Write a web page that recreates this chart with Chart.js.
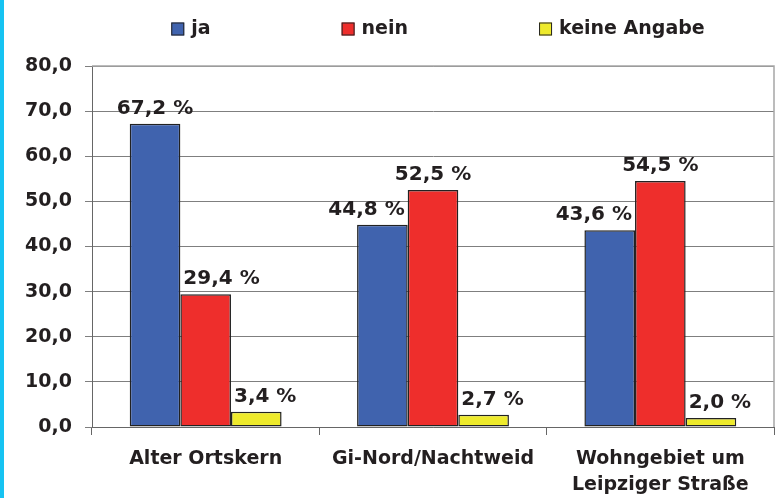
<!DOCTYPE html>
<html>
<head>
<meta charset="utf-8">
<script src="https://cdn.jsdelivr.net/npm/chart.js@4.4.0/dist/chart.umd.min.js"></script>
<style>
    html, body { margin: 0; padding: 0; background: #fff; }
    body { width: 780px; height: 498px; overflow: hidden; position: relative; }
    #strip { position: absolute; left: 0; top: 0; width: 4px; height: 498px; background: #16c3f2; }
    #wrap { position: absolute; left: 4px; top: 0; width: 776px; height: 498px; }
</style>
</head>
<body>
<div id="strip"></div>
<div id="wrap"><canvas id="myChart" width="776" height="498"></canvas></div>
<script>
// datos del grafico
const categorias = ['Alter Ortskern', 'Gi-Nord/Nachtweid', ['Wohngebiet um', 'Leipziger Straße']];
const etiquetasSeries = ['ja', 'nein', 'keine Angabe'];
const valoresJa = [67.2, 44.8, 43.6];
const valoresNein = [29.4, 52.5, 54.5];
const valoresKeine = [3.4, 2.7, 2.0];
const yMin = 0;
const yMax = 80;
const yPaso = 10;

// colores
const azul = '#4063ae';
const rojo = '#ee2e2c';
const amarillo = '#eeea2c';
const borde = '#222222';
const texto = '#231f20';

// como se alinea cada etiqueta de valor sobre su barra
const alinJa = ['center', 'right', 'right'];
const alinNein = ['left', 'center', 'center'];
const alinKeine = ['left', 'left', 'left'];

const fuente = 'DejaVu Sans';
Chart.defaults.font.family = fuente;

function formatoNum(v) {
    return v.toFixed(1).replace('.', ',');
}

// etiquetas "67,2 %" encima de las barras
const etiquetasValor = {
    id: 'etiquetasValor',
    afterDatasetsDraw(chart) {
        const ctx = chart.ctx;
        ctx.save();
        ctx.font = 'bold 20px "' + fuente + '"';
        ctx.fillStyle = texto;
        ctx.textBaseline = 'alphabetic';
        chart.data.datasets.forEach((ds, i) => {
            const meta = chart.getDatasetMeta(i);
            meta.data.forEach((bar, j) => {
                const txt = formatoNum(ds.data[j]) + ' %';
                const al = ds.alinear[j];
                let x = bar.x;
                if (al === 'left') x = bar.x - bar.width / 2 + 3;
                if (al === 'right') x = bar.x + bar.width / 2 - 3;
                ctx.textAlign = al;
                ctx.fillText(txt, x, bar.y - 10);
            });
        });
        ctx.restore();
    }
};

// leyenda arriba, con mucho espacio entre items
const leyenda = {
    id: 'leyenda',
    afterDraw(chart) {
        const ctx = chart.ctx;
        const area = chart.chartArea;
        ctx.save();
        ctx.font = 'bold 19px "' + fuente + '"';
        const caja = 13;
        const sep = 7;
        const hueco = 131;
        const anchos = chart.data.datasets.map(ds => caja + sep + ctx.measureText(ds.label).width);
        const total = anchos.reduce((a, b) => a + b, 0) + hueco * (anchos.length - 1);
        let x = (area.left + area.right) / 2 + 5 - total / 2;
        const y = 29;
        chart.data.datasets.forEach((ds, i) => {
            ctx.fillStyle = ds.backgroundColor;
            ctx.fillRect(x, y - caja / 2, caja, caja);
            ctx.strokeStyle = borde;
            ctx.lineWidth = 1;
            ctx.strokeRect(x + 0.5, y - caja / 2 + 0.5, caja - 1, caja - 1);
            ctx.fillStyle = texto;
            ctx.textAlign = 'left';
            ctx.textBaseline = 'middle';
            ctx.fillText(ds.label, x + caja + sep, y);
            x += anchos[i] + hueco;
        });
        ctx.restore();
    }
};

// marco gris del area del grafico
const marco = {
    id: 'marco',
    beforeDatasetsDraw(chart) {
        const ctx = chart.ctx;
        const a = chart.chartArea;
        ctx.save();
        ctx.strokeStyle = '#a6a6a6';
        ctx.lineWidth = 1.5;
        ctx.beginPath();
        ctx.moveTo(a.left, a.top);
        ctx.lineTo(a.right, a.top);
        ctx.lineTo(a.right, a.bottom);
        ctx.stroke();
        ctx.restore();
    }
};

const ctx = document.getElementById('myChart');

const myChart = new Chart(ctx, {
    type: 'bar',
    data: {
        labels: categorias,
        datasets: [
            { label: etiquetasSeries[0], data: valoresJa, backgroundColor: azul, borderColor: borde, borderWidth: 1.5, borderSkipped: false, alinear: alinJa },
            { label: etiquetasSeries[1], data: valoresNein, backgroundColor: rojo, borderColor: borde, borderWidth: 1.5, borderSkipped: false, alinear: alinNein },
            { label: etiquetasSeries[2], data: valoresKeine, backgroundColor: amarillo, borderColor: borde, borderWidth: 1.5, borderSkipped: false, alinear: alinKeine }
        ]
    },
    options: {
        responsive: false,
        animation: false,
        devicePixelRatio: 1,
        categoryPercentage: 0.668,
        barPercentage: 1.0,
        layout: { padding: { top: 66, right: 6, left: 0, bottom: 0 } },
        plugins: {
            legend: { display: false },
            tooltip: { enabled: false }
        },
        scales: {
            x: {
                grid: { display: true, drawOnChartArea: false, drawTicks: true, tickLength: 8, color: '#666', offset: true },
                border: { display: true, color: '#666', width: 1 },
                ticks: {
                    color: texto,
                    font: { size: 19, weight: 'bold', lineHeight: 1.32 },
                    padding: 12,
                    maxRotation: 0,
                    autoSkip: false
                },
                afterFit: (s) => { s.height = 71; }
            },
            y: {
                min: yMin,
                max: yMax,
                grid: { color: '#7f7f7f', tickLength: 7, drawTicks: true },
                border: { display: true, color: '#666', width: 1 },
                ticks: {
                    stepSize: yPaso,
                    color: texto,
                    font: { size: 19, weight: 'bold' },
                    padding: 13,
                    callback: (v) => formatoNum(v)
                },
                afterFit: (s) => { s.width = 88; }
            }
        }
    },
    plugins: [marco, etiquetasValor, leyenda]
});
</script>
</body>
</html>
